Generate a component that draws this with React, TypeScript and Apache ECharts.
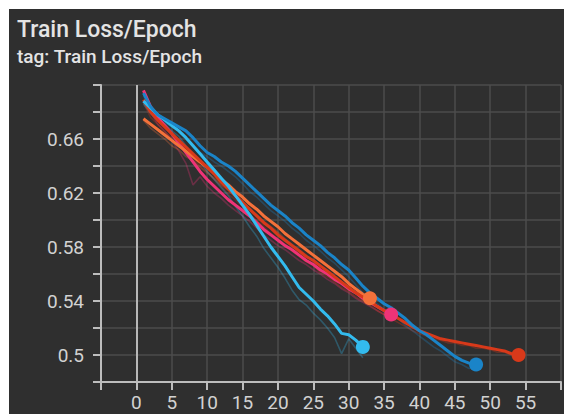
import React, { useEffect, useRef } from "react";
import * as echarts from "echarts";

// Smoothed loss per epoch (epoch 1..n) for each run
const pinkSmoothed = [
  0.696, 0.684, 0.676, 0.670, 0.664, 0.657, 0.650, 0.643, 0.636, 0.630,
  0.625, 0.620, 0.615, 0.611, 0.607, 0.603, 0.598, 0.593, 0.589, 0.585,
  0.581, 0.578, 0.574, 0.570, 0.567, 0.563, 0.560, 0.556, 0.553, 0.549,
  0.546, 0.542, 0.539, 0.536, 0.533, 0.530,
];
const orangeSmoothed = [
  0.675, 0.671, 0.667, 0.663, 0.659, 0.655, 0.651, 0.647, 0.643, 0.639,
  0.635, 0.630, 0.626, 0.621, 0.617, 0.612, 0.608, 0.603, 0.599, 0.595,
  0.590, 0.586, 0.582, 0.578, 0.574, 0.570, 0.566, 0.562, 0.558, 0.553,
  0.549, 0.545, 0.542,
];
const redSmoothed = [
  0.689, 0.680, 0.674, 0.669, 0.664, 0.659, 0.654, 0.649, 0.644, 0.639,
  0.634, 0.628, 0.623, 0.618, 0.613, 0.608, 0.603, 0.598, 0.594, 0.589,
  0.585, 0.581, 0.577, 0.573, 0.570, 0.566, 0.562, 0.558, 0.554, 0.550,
  0.546, 0.543, 0.540, 0.536, 0.533, 0.530, 0.527, 0.524, 0.521, 0.518,
  0.516, 0.514, 0.512, 0.511, 0.510, 0.509, 0.508, 0.507, 0.506, 0.505,
  0.504, 0.503, 0.501, 0.500,
];
const lightBlueSmoothed = [
  0.688, 0.683, 0.678, 0.674, 0.670, 0.666, 0.661, 0.655, 0.649, 0.643,
  0.637, 0.631, 0.625, 0.618, 0.611, 0.604, 0.596, 0.588, 0.580, 0.573,
  0.566, 0.558, 0.550, 0.545, 0.540, 0.534, 0.529, 0.523, 0.516, 0.515,
  0.511, 0.506,
];
const blueSmoothed = [
  0.694, 0.684, 0.678, 0.675, 0.672, 0.669, 0.666, 0.661, 0.655, 0.650,
  0.647, 0.643, 0.640, 0.636, 0.631, 0.626, 0.621, 0.616, 0.611, 0.607,
  0.603, 0.598, 0.594, 0.589, 0.585, 0.581, 0.576, 0.572, 0.567, 0.563,
  0.557, 0.551, 0.546, 0.542, 0.538, 0.535, 0.531, 0.527, 0.522, 0.518,
  0.515, 0.511, 0.507, 0.503, 0.499, 0.496, 0.494, 0.493,
];

// Raw (unsmoothed) loss per epoch, drawn faded behind the smoothed curves
const pinkRaw = [
  0.695, 0.680, 0.671, 0.666, 0.659, 0.651, 0.642, 0.626, 0.632, 0.625,
  0.620, 0.616, 0.611, 0.607, 0.603, 0.599, 0.594, 0.589, 0.585, 0.581,
  0.578, 0.574, 0.570, 0.567, 0.563, 0.560, 0.556, 0.553, 0.549, 0.546,
  0.542, 0.539, 0.536, 0.533, 0.530, 0.528,
];
const orangeRaw = [
  0.674, 0.668, 0.664, 0.660, 0.655, 0.652, 0.647, 0.644, 0.639, 0.635,
  0.631, 0.626, 0.622, 0.617, 0.613, 0.608, 0.604, 0.599, 0.595, 0.591,
  0.586, 0.582, 0.578, 0.574, 0.570, 0.566, 0.562, 0.558, 0.554, 0.549,
  0.546, 0.541, 0.539,
];
const redRaw = [
  0.687, 0.676, 0.671, 0.665, 0.661, 0.655, 0.650, 0.646, 0.640, 0.636,
  0.630, 0.625, 0.619, 0.615, 0.610, 0.604, 0.600, 0.595, 0.590, 0.586,
  0.582, 0.577, 0.573, 0.569, 0.566, 0.561, 0.558, 0.554, 0.550, 0.547,
  0.543, 0.540, 0.537, 0.533, 0.530, 0.527, 0.524, 0.521, 0.518, 0.516,
  0.514, 0.512, 0.511, 0.509, 0.509, 0.507, 0.507, 0.505, 0.505, 0.504,
  0.502, 0.502, 0.500, 0.499,
];
const lightBlueRaw = [
  0.686, 0.679, 0.674, 0.671, 0.666, 0.662, 0.655, 0.648, 0.643, 0.636,
  0.630, 0.624, 0.618, 0.610, 0.603, 0.595, 0.588, 0.579, 0.572, 0.565,
  0.557, 0.548, 0.541, 0.537, 0.531, 0.526, 0.520, 0.513, 0.501, 0.512,
  0.505, 0.498,
];
const blueRaw = [
  0.692, 0.679, 0.675, 0.672, 0.669, 0.666, 0.661, 0.656, 0.650, 0.647,
  0.643, 0.640, 0.636, 0.632, 0.627, 0.621, 0.617, 0.612, 0.607, 0.603,
  0.599, 0.594, 0.590, 0.585, 0.581, 0.577, 0.572, 0.568, 0.563, 0.558,
  0.552, 0.546, 0.542, 0.538, 0.534, 0.531, 0.527, 0.522, 0.518, 0.514,
  0.510, 0.506, 0.503, 0.499, 0.495, 0.493, 0.490, 0.491,
];

// Axis ticks
const xTickStep = 5;
const yTickStep = 0.02;
const yLabelledTicks = [0.5, 0.54, 0.58, 0.62, 0.66];

const runs = [
  { name: "run_pink", color: "#ee3377", smoothed: pinkSmoothed, raw: pinkRaw },
  { name: "run_orange", color: "#f4713a", smoothed: orangeSmoothed, raw: orangeRaw },
  { name: "run_red", color: "#d8391a", smoothed: redSmoothed, raw: redRaw },
  { name: "run_lightblue", color: "#33bbee", smoothed: lightBlueSmoothed, raw: lightBlueRaw },
  { name: "run_blue", color: "#1a84c8", smoothed: blueSmoothed, raw: blueRaw },
];

const toPoints = (values: number[]) => values.map((v, i) => [i + 1, v]);

export default function App() {
  const ref = useRef<HTMLDivElement>(null);

  useEffect(() => {
    if (!ref.current) return;
    const chart = echarts.init(ref.current, null, { renderer: "svg" });

    const rawSeries = runs.map((r) => ({
      name: r.name + "_raw",
      type: "line",
      data: toPoints(r.raw),
      showSymbol: false,
      silent: true,
      z: 2,
      lineStyle: { color: r.color, width: 1.6, opacity: 0.3 },
    }));

    const smoothSeries = runs.map((r) => ({
      name: r.name,
      type: "line",
      data: toPoints(r.smoothed),
      showSymbol: false,
      silent: true,
      z: 3,
      lineStyle: { color: r.color, width: 3 },
    }));

    const endDots = runs.map((r) => ({
      name: r.name + "_end",
      type: "scatter",
      data: [[r.smoothed.length, r.smoothed[r.smoothed.length - 1]]],
      symbolSize: 14,
      silent: true,
      z: 4,
      itemStyle: { color: r.color, opacity: 1 },
    }));

    const zeroLine = {
      name: "zero",
      type: "line",
      data: [],
      silent: true,
      z: 1,
      markLine: {
        silent: true,
        symbol: "none",
        label: { show: false },
        lineStyle: { color: "#b8b8b8", width: 2, type: "solid" },
        data: [{ xAxis: 0 }],
      },
    };

    chart.setOption({
      animation: false,
      backgroundColor: "#2f2f2f",
      textStyle: { fontFamily: "Roboto" },
      title: {
        text: "Train Loss/Epoch",
        subtext: "tag: Train Loss/Epoch",
        left: 8,
        top: 7,
        padding: 0,
        itemGap: 3,
        textStyle: {
          color: "#e4e4e4",
          fontSize: 23,
          lineHeight: 26,
          fontWeight: 500,
          fontFamily: "Roboto",
        },
        subtextStyle: {
          color: "#e4e4e4",
          fontSize: 19,
          lineHeight: 22,
          fontWeight: 500,
          fontFamily: "Roboto",
        },
      },
      grid: { left: 92, top: 76, right: -5, bottom: 32 },
      xAxis: {
        type: "value",
        min: -5,
        max: 60,
        interval: xTickStep,
        axisLine: { show: true, onZero: false, lineStyle: { color: "#bdbdbd", width: 2 } },
        axisTick: { show: true, length: 8, lineStyle: { color: "#bdbdbd", width: 2 } },
        axisLabel: {
          color: "#d2d2d2",
          fontSize: 19,
          margin: 11,
          fontFamily: "Roboto",
          formatter: (v: number) => (v >= 0 && v <= 55 ? String(v) : ""),
        },
        splitLine: { show: true, lineStyle: { color: "#4c4c4c", width: 1.5 } },
      },
      yAxis: {
        type: "value",
        min: 0.48,
        max: 0.7,
        interval: yTickStep,
        axisLine: { show: true, onZero: false, lineStyle: { color: "#bdbdbd", width: 2 } },
        axisTick: { show: true, length: 8, lineStyle: { color: "#bdbdbd", width: 2 } },
        axisLabel: {
          color: "#d2d2d2",
          fontSize: 19,
          margin: 17,
          fontFamily: "Roboto",
          formatter: (v: number) => {
            const r = Math.round(v * 100) / 100;
            return yLabelledTicks.some((t) => Math.abs(t - r) < 1e-6) ? String(r) : "";
          },
        },
        splitLine: { show: true, lineStyle: { color: "#4c4c4c", width: 1.5 } },
      },
      series: [zeroLine, ...rawSeries, ...smoothSeries, ...endDots],
    });

    return () => chart.dispose();
  }, []);

  return (
    <div
      style={{
        position: "fixed",
        left: 0,
        top: 0,
        width: 564,
        height: 414,
        background: "#ffffff",
        overflow: "hidden",
      }}
    >
      <div
        ref={ref}
        style={{ position: "absolute", left: 9, top: 9, width: 555, height: 405 }}
      />
    </div>
  );
}
